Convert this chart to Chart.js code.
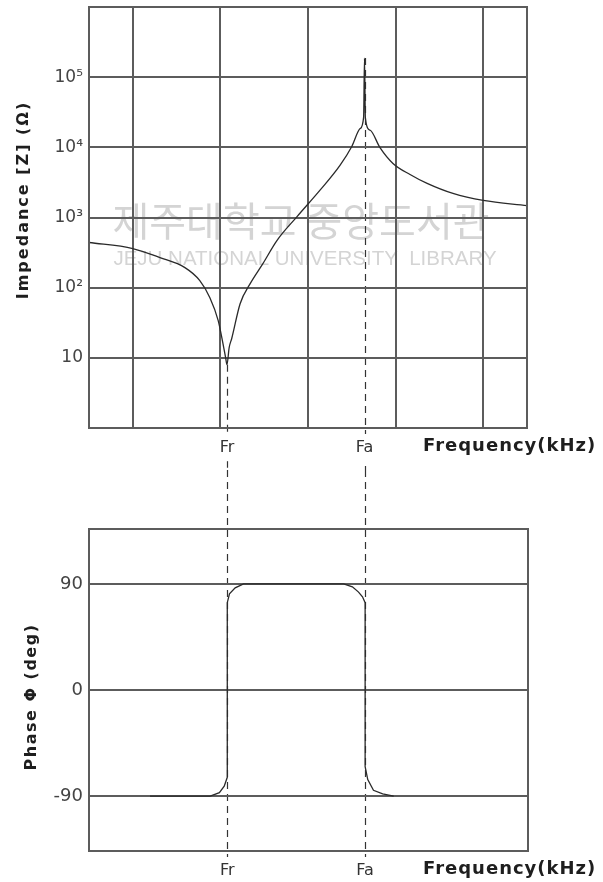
<!DOCTYPE html>
<html>
<head>
<meta charset="utf-8">
<script src="https://cdn.jsdelivr.net/npm/chart.js@4.4.0/dist/chart.umd.min.js"></script>
<style>
  body { margin: 0; background: #fff; }
  .wrap { position: relative; width: 603px; height: 882px; }
  canvas { position: absolute; left: 0; }
</style>
</head>
<body>
<div class="wrap">
  <canvas id="impedance" width="603" height="470" style="top:0"></canvas>
  <canvas id="phase" width="603" height="412" style="top:470px"></canvas>
</div>
<script>
// resonance (Fr) and anti-resonance (Fa) positions on the frequency axis
const FR = 3.15;
const FA = 6.29;

// |Z| sweep
const freqZ = [0, 1.0, 1.62, 2.19, 2.53, 2.76, 2.95, 3.06, 3.12, FR, 3.20, 3.26, 3.45, 3.68, 3.97, 4.29,
               4.75, 5.27, 5.73, 6.0, 6.19, 6.27, FA, 6.31, 6.42, 6.64, 6.94, 7.33, 7.72, 8.31, 9.0, 10];
const impedance = [440, 361, 268, 193, 126, 72, 34, 15.8, 10, 8, 14, 19, 59, 114, 220, 469,
                   1030, 2430, 5530, 10300, 18500, 27000, 187000, 26000, 17500, 10000, 5900, 4100, 3060, 2200, 1750, 1480];

// phase sweep
const freqPhase = [1.39, 2.76, 2.97, 3.08, FR, FR, 3.20, 3.33, 3.52, 5.80, 6.00, 6.14, 6.23, FA, FA, 6.35, 6.48, 6.69, 6.94];
const phase = [-90, -90, -87, -81.5, -74, 74, 81.5, 86.6, 90, 90, 87.5, 83, 79, 74, -65, -76, -85, -88, -90];

// axis ticks
const zTicks = [1, 10, 100, 1000, 10000, 100000, 1000000];
const phaseTicks = [-90, 0, 90];
const freqGrid = [1, 3, 5, 7, 9];

const GRID = '#5c5c5c';
const TEXT = '#444';
const SUP = { 2: '\u00b2', 3: '\u00b3', 4: '\u2074', 5: '\u2075' };

function decadeLabel(v) {
  const e = Math.round(Math.log10(v));
  if (e === 0 || e === 6) return '';
  return e === 1 ? '10' : '10' + SUP[e];
}
function markerLabel(v) {
  if (v === FR) return 'Fr';
  if (v === FA) return 'Fa';
  return '';
}
// keep the plot box exactly where the layout padding puts it
function fixWidth(w) {
  return s => { s.width = w; s.paddingTop = 0; s.paddingBottom = 0; };
}
function fixHeight(h) {
  return s => { s.height = h; s.paddingLeft = 0; s.paddingRight = 0; };
}

// frame, axis titles, watermark and the dashed Fr / Fa guides
const extras = {
  id: 'extras',
  beforeDraw(chart, args, opts) {
    const { ctx, chartArea: a, scales } = chart;
    ctx.save();
    if (opts.watermark) {
      ctx.fillStyle = '#d4d4d4';
      ctx.textAlign = 'center';
      ctx.textBaseline = 'middle';
      ctx.font = '40px "Noto Sans CJK KR"';
      ctx.fillText('제주대학교 중앙도서관', 301, 221);
      ctx.font = '20.5px "Liberation Sans"';
      ctx.fillText('JEJU NATIONAL UNIVERSITY  LIBRARY', 305, 259);
    }
    ctx.strokeStyle = '#333';
    ctx.lineWidth = 1.2;
    ctx.setLineDash([7, 5]);
    opts.markers.forEach(m => {
      const px = Math.round(scales.x.getPixelForValue(m.value)) + 0.5;
      const y0 = m.from != null ? scales.y.getPixelForValue(m.from) : 0;
      const y1 = Math.min(chart.height, a.bottom + opts.markerEnd);
      ctx.beginPath();
      ctx.moveTo(px, y0);
      ctx.lineTo(px, y1);
      ctx.stroke();
    });
    ctx.restore();
  },
  afterDraw(chart, args, opts) {
    const { ctx, chartArea: a } = chart;
    ctx.save();
    ctx.strokeStyle = GRID;
    ctx.lineWidth = 2;
    ctx.strokeRect(a.left, a.top, a.right - a.left, a.bottom - a.top);

    ctx.fillStyle = '#1e1e1e';
    ctx.font = 'bold 18px "DejaVu Sans"';
    ctx.letterSpacing = '1px';
    ctx.textAlign = 'left';
    ctx.textBaseline = 'middle';
    ctx.fillText('Frequency(kHz)', opts.xTitleX, opts.xTitleY);

    ctx.font = 'bold 16px "DejaVu Sans"';
    ctx.letterSpacing = opts.yTitleSpacing;
    ctx.textAlign = 'center';
    ctx.translate(opts.yTitleX, opts.yTitleY);
    ctx.rotate(-Math.PI / 2);
    ctx.fillText(opts.yTitle, 0, 0);
    ctx.restore();
  }
};

const common = {
  responsive: false,
  animation: false,
  devicePixelRatio: 1,
  events: []
};

function xTicks(pad) {
  return {
    autoSkip: false,
    maxRotation: 0,
    padding: pad,
    color: '#333',
    font: { family: 'DejaVu Sans', size: 16 },
    callback: markerLabel,
    showLabelBackdrop: true,
    backdropColor: '#fff',
    backdropPadding: { x: 2, y: 4 }
  };
}

// impedance magnitude
new Chart(document.getElementById('impedance'), {
  type: 'line',
  data: {
    datasets: [{
      data: freqZ.map((f, i) => ({ x: f, y: impedance[i] })),
      borderColor: '#2a2a2a',
      borderWidth: 1.3,
      pointRadius: 0,
      cubicInterpolationMode: 'monotone',
      fill: false
    }]
  },
  options: {
    ...common,
    layout: { padding: { top: 7, right: 76, left: 0, bottom: 0 } },
    plugins: {
      legend: { display: false },
      tooltip: { enabled: false },
      extras: {
        watermark: true,
        markers: [{ value: FR, from: impedance[freqZ.indexOf(FR)] }, { value: FA, from: impedance[freqZ.indexOf(FA)] }],
        markerEnd: 60,
        xTitleX: 423, xTitleY: 446,
        yTitle: 'Impedance [Z] (\u03a9)', yTitleX: 24, yTitleY: 200, yTitleSpacing: '2px'
      }
    },
    scales: {
      x: {
        type: 'linear', min: 0, max: 10,
        afterBuildTicks: s => { s.ticks = freqGrid.concat([FR, FA]).sort((p, q) => p - q).map(v => ({ value: v })); },
        afterFit: fixHeight(42),
        grid: {
          color: c => (c.tick && (c.tick.value === FR || c.tick.value === FA)) ? 'rgba(0,0,0,0)' : GRID,
          lineWidth: 2, drawTicks: false
        },
        border: { display: false },
        ticks: xTicks(10)
      },
      y: {
        type: 'logarithmic', min: 1, max: 1000000,
        afterBuildTicks: s => { s.ticks = zTicks.map(v => ({ value: v })); },
        afterFit: fixWidth(89),
        grid: { color: GRID, lineWidth: 2, drawTicks: false },
        border: { display: false },
        ticks: { padding: 6, color: TEXT, font: { family: 'DejaVu Sans', size: 17 }, callback: decadeLabel }
      }
    }
  },
  plugins: [extras]
});

// phase
new Chart(document.getElementById('phase'), {
  type: 'line',
  data: {
    datasets: [{
      data: freqPhase.map((f, i) => ({ x: f, y: phase[i] })),
      borderColor: '#2a2a2a',
      borderWidth: 1.3,
      pointRadius: 0,
      tension: 0,
      fill: false
    }]
  },
  options: {
    ...common,
    layout: { padding: { top: 59, right: 75, left: 0, bottom: 0 } },
    plugins: {
      legend: { display: false },
      tooltip: { enabled: false },
      extras: {
        watermark: false,
        markers: [{ value: FR }, { value: FA }],
        markerEnd: 8,
        xTitleX: 423, xTitleY: 399,
        yTitle: 'Phase \u03a6 (deg)', yTitleX: 32, yTitleY: 227, yTitleSpacing: '1.5px'
      }
    },
    scales: {
      x: {
        type: 'linear', min: 0, max: 10,
        afterBuildTicks: s => { s.ticks = [FR, FA].map(v => ({ value: v })); },
        afterFit: fixHeight(31),
        grid: { display: false },
        border: { display: false },
        ticks: xTicks(2)
      },
      y: {
        type: 'linear', min: -136.5, max: 136.5,
        afterBuildTicks: s => { s.ticks = phaseTicks.map(v => ({ value: v })); },
        afterFit: fixWidth(89),
        grid: { color: GRID, lineWidth: 2, drawTicks: false },
        border: { display: false },
        ticks: { padding: 6, color: TEXT, font: { family: 'DejaVu Sans', size: 18 } }
      }
    }
  },
  plugins: [extras]
});
</script>
</body>
</html>
